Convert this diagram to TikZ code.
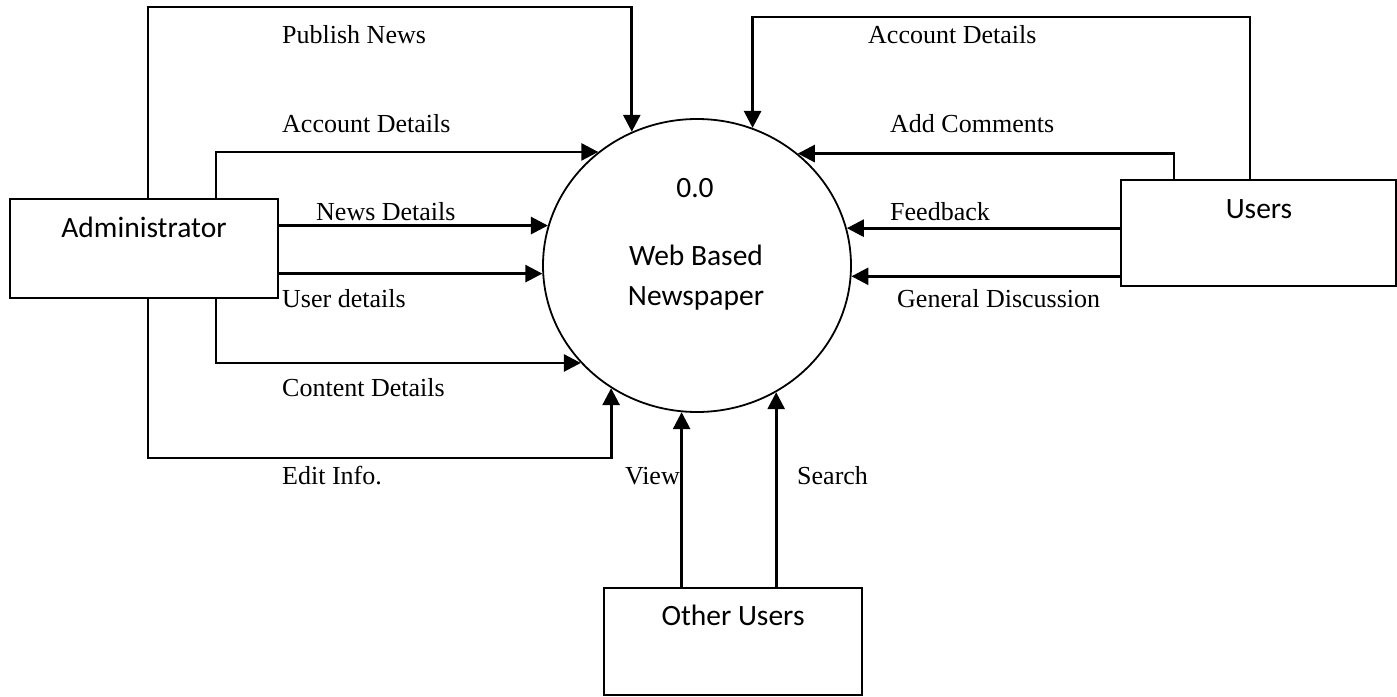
\documentclass[tikz,border=0pt]{standalone}
\usepackage{fontspec}
\setmainfont{Liberation Serif}
\newfontfamily\carlito{Carlito}
\usetikzlibrary{arrows.meta,shapes.geometric}
\begin{document}
\begin{tikzpicture}[x=1pt,y=-1pt,
  ent/.style={draw,line width=2pt,inner sep=0pt,anchor=center},
  flow/.style={line width=2.8pt,-{Triangle[length=17pt,width=17pt]}},
  lbl/.style={font=\fontsize{26}{30}\selectfont,inner sep=0pt,anchor=base west},
  etxt/.style={font=\carlito\fontsize{29.5}{33}\selectfont,inner sep=0pt,anchor=base}]
\useasboundingbox (0,0) rectangle (1397,696);
% entities
\node[ent,minimum width=268pt,minimum height=99pt] (admin) at (144,248.5) {};
\node[ent,minimum width=275pt,minimum height=106pt] (users) at (1258.5,233) {};
\node[ent,minimum width=258pt,minimum height=107pt] (other) at (733,641) {};
% process
\node[draw,ellipse,line width=1.8pt,minimum width=308pt,minimum height=293pt,inner sep=0pt] (c) at (697,265.5) {};
% texts
\node[etxt] (adminT) at (144,237) {Administrator};
\node[etxt] (usersT) at (1259,218) {Users};
\node[etxt] (otherT) at (733,625) {Other Users};
\node[etxt] (cNum) at (695,197) {0.0};
\node[etxt] (cT1) at (696,265) {Web Based};
\node[etxt] (cT2) at (696,305) {Newspaper};
% flows from administrator
\draw[flow] ([xshift=4pt]admin.north) |- (c.116.1 |- 0,7) -- (c.116.1);
\draw[flow] ([xshift=72pt]admin.north) |- (c.131.2);
\draw[flow] (admin.east |- c.165.9) -- (c.165.9);
\draw[flow] (admin.east |- c.183.2) -- (c.183.2);
\draw[flow] ([xshift=72pt]admin.south) |- (c.220.8);
\draw[flow] ([xshift=4pt]admin.south) |- (c.235.6 |- 0,458) -- (c.235.6);
% flows from other users
\draw[flow] (other.north -| c.264.1) -- (c.264.1);
\draw[flow] (other.north -| c.302.6) -- (c.302.6);
% flows from users
\draw[flow] ([xshift=-8.5pt]users.north) |- (c.68.9 |- 0,17) -- (c.68.9);
\draw[flow] ([xshift=-84.5pt]users.north) |- (c.48.8);
\draw[flow] (users.west |- c.14.1) -- (c.14.1);
\draw[flow] (users.west |- c.356.8) -- (c.356.8);
% labels
\node[lbl] (l1) at (282,43) {Publish News};
\node[lbl] (l2) at (282,132) {Account Details};
\node[lbl] (l3) at (316,220) {News Details};
\node[lbl] (l4) at (282,307) {User details};
\node[lbl] (l5) at (282,396) {Content Details};
\node[lbl] (l6) at (282,484) {Edit Info.};
\node[lbl,anchor=base east] (l7) at (680,484) {View};
\node[lbl] (l8) at (797,484) {Search};
\node[lbl] (l9) at (868,43) {Account Details};
\node[lbl] (l10) at (890,132) {Add Comments};
\node[lbl] (l11) at (890,220) {Feedback};
\node[lbl] (l12) at (897,307) {General Discussion};
\end{tikzpicture}
\end{document}
